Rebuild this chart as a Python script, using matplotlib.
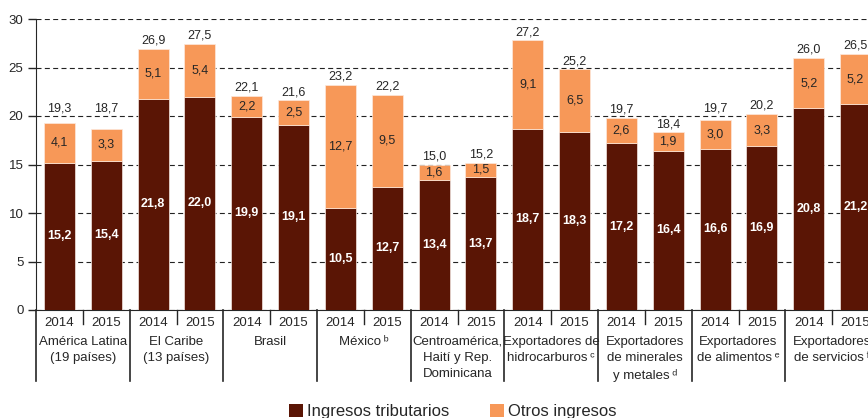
import matplotlib
matplotlib.use("Agg")
import matplotlib.pyplot as plt
from matplotlib.patches import Patch
import numpy as np

plt.rcParams['font.family'] = ['Liberation Sans', 'DejaVu Sans']

groups = ["América Latina\n(19 países)", "El Caribe\n(13 países)", "Brasil",
          "México\u2009\u1d47", "Centroamérica,\nHaití y Rep.\nDominicana",
          "Exportadores de\nhidrocarburos\u2009\u1d9c", "Exportadores\nde minerales\ny metales\u2009\u1d48",
          "Exportadores\nde alimentos\u2009\u1d49", "Exportadores\nde servicios\u2009\u1da0"]
years = ["2014", "2015"]
tributarios = [15.2, 15.4, 21.8, 22.0, 19.9, 19.1, 10.5, 12.7, 13.4, 13.7,
               18.7, 18.3, 17.2, 16.4, 16.6, 16.9, 20.8, 21.2]
otros = [4.1, 3.3, 5.1, 5.4, 2.2, 2.5, 12.7, 9.5, 1.6, 1.5,
         9.1, 6.5, 2.6, 1.9, 3.0, 3.3, 5.2, 5.2]
totales = [19.3, 18.7, 26.9, 27.5, 22.1, 21.6, 23.2, 22.2, 15.0, 15.2,
           27.2, 25.2, 19.7, 18.4, 19.7, 20.2, 26.0, 26.5]

dark = "#5A1505"
orange = "#F79858"
txt = "#262626"

def fmt(v):
    return f"{v:.1f}".replace(".", ",")

W, H = 868, 418
fig = plt.figure(figsize=(W/100, H/100), dpi=100)
left, right, bottom, top = 36, 879, 310, 19
ax = fig.add_axes([left/W, 1-bottom/H, (right-left)/W, (bottom-top)/H])

x = np.arange(len(tributarios))
bw = 0.66
ax.bar(x, tributarios, bw, color=dark, edgecolor="#f3e6e0", linewidth=0.5, zorder=3)
ax.bar(x, otros, bw, bottom=tributarios, color=orange, edgecolor="#fde9dc", linewidth=0.5, zorder=3)

for i in range(len(x)):
    ax.text(x[i], tributarios[i]/2, fmt(tributarios[i]), ha="center", va="center",
            color="white", fontsize=9, fontweight="bold", zorder=4)
    ax.text(x[i], tributarios[i] + otros[i]/2, fmt(otros[i]), ha="center", va="center",
            color=txt, fontsize=9, zorder=4)
    yc = tributarios[i] + otros[i] + 0.85
    g = 5 * round(yc / 5)
    if abs(yc - g) < 0.55:
        yc = g + 0.8
    ax.text(x[i], yc, fmt(totales[i]), ha="center", va="center",
            color=txt, fontsize=9, zorder=4)

ax.set_xlim(-0.5, len(x) - 0.5)
ax.set_ylim(0, 30)
ax.set_yticks(range(0, 31, 5))
ax.tick_params(axis="y", direction="out", length=6, width=1, colors=txt, labelsize=9.5, pad=3)
ax.yaxis.grid(True, color="#222222", linestyle=(0, (4.5, 3)), linewidth=0.8, zorder=0)
ax.set_axisbelow(True)
for s in ["top", "right"]:
    ax.spines[s].set_visible(False)
ax.spines["left"].set_color(txt)
ax.spines["bottom"].set_color(txt)
ax.set_xticks([])

# year labels & separators
trans = ax.get_xaxis_transform()
ph = bottom - top
for i in range(len(x)):
    ax.text(x[i], -12.5/ph, years[i % 2], ha="center", va="center", fontsize=9.5,
            color=txt, transform=trans)
for i in range(len(groups)):
    ax.plot([2*i + 0.5, 2*i + 0.5], [0, -14/ph], color=txt, lw=1, transform=trans, clip_on=False)
    xb = 2*i - 0.5
    ax.plot([xb, xb], [0, -71/ph], color=txt, lw=1.2, transform=trans, clip_on=False)
    ax.text(2*i + 0.5, -26/ph, groups[i], ha="center", va="top", fontsize=9.5,
            color=txt, transform=trans, linespacing=1.45)

handles = [Patch(facecolor=dark, edgecolor="none"), Patch(facecolor=orange, edgecolor="none")]
fig.legend(handles, ["Ingresos tributarios", "Otros ingresos"], ncol=2,
           loc="upper left", bbox_to_anchor=(289/W, 1-404/H), frameon=False,
           fontsize=12, handlelength=0.85, handleheight=0.85, handletextpad=0.25,
           columnspacing=2.4, borderpad=0, borderaxespad=0, labelcolor=txt)

fig.savefig("out.png", dpi=100)
